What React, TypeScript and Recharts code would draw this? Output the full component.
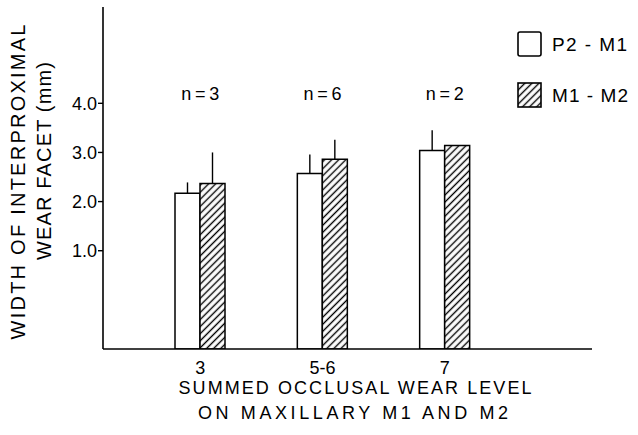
import React from 'react';
import { BarChart, Bar, XAxis, YAxis, ErrorBar, ReferenceDot, Legend, Label } from 'recharts';

// wear level groups on the x axis
const categories = ['3', '5-6', '7'];
// mean facet widths (mm) and upper error (sd) per group
const p2m1 = [2.17, 2.57, 3.04];
const p2m1Err = [0.22, 0.39, 0.41];
const m1m2 = [2.37, 2.86, 3.14];
const m1m2Err = [0.63, 0.4, 0];
const sampleSizes = [3, 6, 2];
const yTicks = [1, 2, 3, 4];

const FONT = '"Liberation Sans", Arial, sans-serif';
// the figure's bars rise from the axis floor, which sits one unit below 0
const Y_FLOOR = -1;
const Y_TOP = 5.96;

const data = categories.map((c, i) => ({
  level: c,
  p2m1: [Y_FLOOR, p2m1[i]],
  p2m1Err: [0, p2m1Err[i]],
  m1m2: [Y_FLOOR, m1m2[i]],
  m1m2Err: [0, m1m2Err[i]],
}));

const YTitle = () => (
  <g fontFamily={FONT} fontSize={20} fill="#000">
    <text transform="translate(18,182) rotate(-90)" textAnchor="middle" dominantBaseline="central"
      textLength={315} lengthAdjust="spacing">WIDTH OF INTERPROXIMAL</text>
    <text transform="translate(44,161) rotate(-90)" textAnchor="middle" dominantBaseline="central"
      textLength={198} lengthAdjust="spacing">WEAR FACET (mm)</text>
  </g>
);

const XTitle = () => (
  <g fontFamily={FONT} fontSize={18} fill="#000">
    <text x={355} y={388} textAnchor="middle" dominantBaseline="central"
      textLength={353} lengthAdjust="spacing">SUMMED OCCLUSAL WEAR LEVEL</text>
    <text x={353} y={413} textAnchor="middle" dominantBaseline="central"
      textLength={310} lengthAdjust="spacing">ON MAXILLARY M1 AND M2</text>
  </g>
);

const LegendBox = () => (
  <svg width={120} height={80} style={{ display: 'block' }}>
    <defs>
      <pattern id="hatchLegend" patternUnits="userSpaceOnUse" width="5" height="5" patternTransform="rotate(45)">
        <rect width="5" height="5" fill="#fff" />
        <line x1="2.5" y1="0" x2="2.5" y2="5" stroke="#000" strokeWidth="1.4" />
      </pattern>
    </defs>
    <rect x={1} y={1} width={23} height={24} rx={2} fill="#fff" stroke="#000" strokeWidth={1.6} />
    <text x={35} y={13} dominantBaseline="central" fontFamily={FONT} fontSize={19}
      textLength={75} lengthAdjust="spacing">P2 - M1</text>
    <rect x={1} y={52} width={23} height={24} fill="url(#hatchLegend)" stroke="#000" strokeWidth={1.6} />
    <text x={35} y={64} dominantBaseline="central" fontFamily={FONT} fontSize={19}
      textLength={76} lengthAdjust="spacing">M1 - M2</text>
  </svg>
);

const App = () => {
  return (
    <div style={{ position: 'absolute', left: 0, top: 0, width: 638, height: 435, background: '#fff' }}>
      <BarChart
        width={638}
        height={435}
        data={data}
        margin={{ top: 7, right: 46, left: 43, bottom: 0 }}
        barSize={25}
        barGap={0}
      >
        <defs>
          <pattern id="hatch" patternUnits="userSpaceOnUse" width="5" height="5" patternTransform="rotate(45)">
            <rect width="5" height="5" fill="#fff" />
            <line x1="2.5" y1="0" x2="2.5" y2="5" stroke="#000" strokeWidth="1.4" />
          </pattern>
        </defs>
        <XAxis
          dataKey="level"
          height={86}
          padding={{ left: 36, right: 86 }}
          tickLine={false}
          tickSize={6}
          tickMargin={6}
          axisLine={{ stroke: '#000', strokeWidth: 1.6 }}
          tick={{ fill: '#000', fontSize: 18, fontFamily: FONT }}
        >
          <Label content={() => <XTitle />} />
        </XAxis>
        <YAxis
          width={60}
          type="number"
          domain={[Y_FLOOR, Y_TOP]}
          ticks={yTicks}
          tickFormatter={(v: number) => v.toFixed(1)}
          tickSize={5}
          tickMargin={1}
          allowDataOverflow
          axisLine={{ stroke: '#000', strokeWidth: 1.6 }}
          tickLine={{ stroke: '#000', strokeWidth: 1.4 }}
          tick={{ fill: '#000', fontSize: 18, fontFamily: FONT }}
        >
          <Label content={() => <YTitle />} />
        </YAxis>
        <Legend
          content={() => <LegendBox />}
          layout="horizontal"
          verticalAlign="middle"
          align="center"
          wrapperStyle={{ position: 'absolute', left: 517, top: 31, width: 120 }}
        />
        <Bar dataKey="p2m1" fill="#fff" stroke="#000" strokeWidth={1.5} isAnimationActive={false}>
          <ErrorBar dataKey="p2m1Err" direction="y" width={0} stroke="#000" strokeWidth={1.4} />
        </Bar>
        <Bar dataKey="m1m2" fill="url(#hatch)" stroke="#000" strokeWidth={1.5} isAnimationActive={false}>
          <ErrorBar dataKey="m1m2Err" direction="y" width={0} stroke="#000" strokeWidth={1.4} />
        </Bar>
        {categories.map((c, i) => (
          <ReferenceDot
            key={c}
            x={c}
            y={4.18}
            r={0}
            fill="none"
            stroke="none"
            label={(props: any) => {
              const vb = props.viewBox || {};
              const cx = (vb.x || 0) + (vb.width || 0) / 2;
              const cy = (vb.y || 0) + (vb.height || 0) / 2;
              return (
                <text x={cx} y={cy} textAnchor="middle" dominantBaseline="central"
                  fontFamily={FONT} fontSize={18} fill="#000" textLength={38} lengthAdjust="spacing">
                  {`n=${sampleSizes[i]}`}
                </text>
              );
            }}
          />
        ))}
      </BarChart>
    </div>
  );
};

export default App;
